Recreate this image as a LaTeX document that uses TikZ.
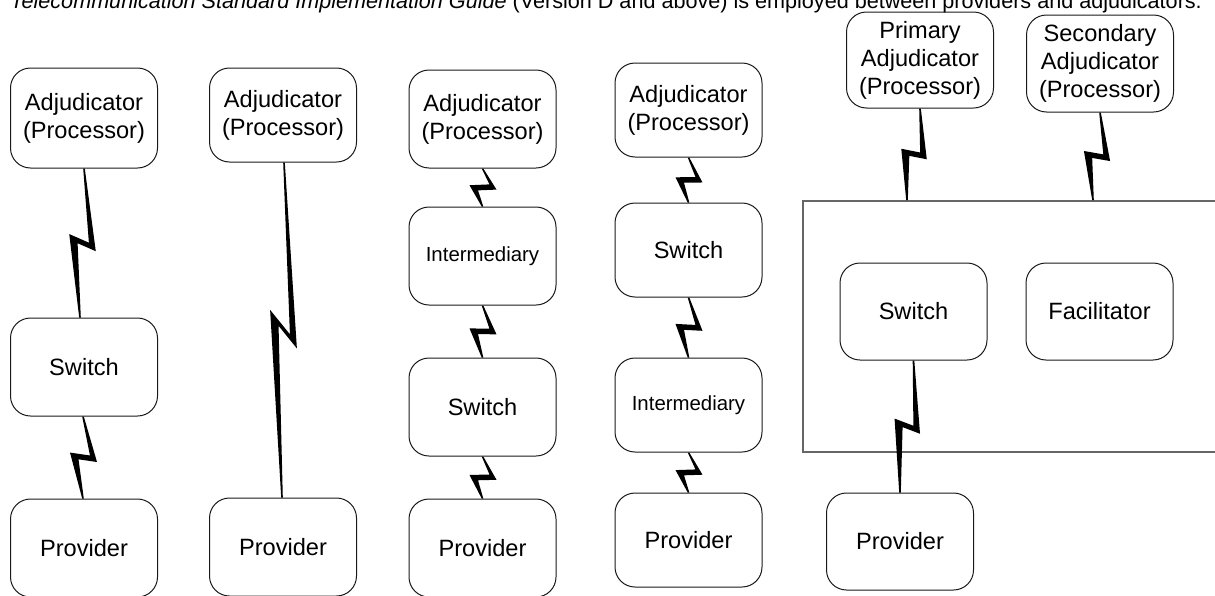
\documentclass[tikz,border=0pt]{standalone}
\usepackage{fontspec}
\setmainfont{Liberation Sans}
\usetikzlibrary{calc}

\newcommand{\linkbolt}[2]{%
  \path (#1) coordinate (bA);
  \path (#2) coordinate (bB);
  \path ($(bA)!0.44!(bB)$) ++(-13,0) coordinate (bL);
  \path ($(bA)!0.555!(bB)$) ++(14,0) coordinate (bR);
  \path ($(bR)+(0,-5.5)$) coordinate (bRu);
  \path ($(bL)+(0,5.5)$) coordinate (bLd);
  \fill ($(bA)+(-0.8,0)$) -- ($(bL)!0.74!(bRu)$) -- (bL) -- ($(bB)+(-0.8,0)$)
    -- ($(bB)+(0.8,0)$) -- ($(bLd)!0.315!(bR)$) -- (bR) -- ($(bA)+(0.8,0)$) -- cycle;
}

\begin{document}
\begin{tikzpicture}[x=0.5pt, y=-0.5pt,
  unit/.style={draw=black!90, line width=0.5pt, rounded corners=10pt,
    minimum width=73.5pt, minimum height=49pt, align=center, inner sep=1pt,
    font=\fontsize{11.8}{14}\selectfont},
  midunit/.style={unit, font=\fontsize{10.2}{12}\selectfont},
  hubbox/.style={draw=black!60, line width=0.75pt, inner sep=0pt, anchor=north west}]
\useasboundingbox (0,0) rectangle (1215,595);
\clip (0,0) rectangle (1215,595);

\node[anchor=base west, inner sep=0pt, font=\fontsize{10.8}{13}\selectfont] (caption) at (10,8.5)
  {\textit{Telecommunication Standard Implementation Guide} (Version D and above) is employed between providers and adjudicators.};

\node[unit, minimum height=50pt] (adjA) at (84,118) {Adjudicator\\(Processor)};
\node[unit] (swA) at (84,367) {Switch};
\node[unit] (provA) at (84,548) {Provider};

\node[unit, minimum height=47pt] (adjB) at (283,115) {Adjudicator\\(Processor)};
\node[unit] (provB) at (283,547) {Provider};

\node[unit] (adjC) at (482.5,119) {Adjudicator\\(Processor)};
\node[midunit] (intC) at (482.5,256) {Intermediary};
\node[unit] (swC) at (482.5,407) {Switch};
\node[unit] (provC) at (482.5,548) {Provider};

\node[unit, minimum height=47pt] (adjD) at (688.5,110) {Adjudicator\\(Processor)};
\node[unit, minimum height=47pt] (swD) at (688.5,250) {Switch};
\node[midunit, minimum height=47pt] (intD) at (688.5,405) {Intermediary};
\node[unit, minimum height=47pt] (provD) at (688.5,540) {Provider};

\node[hubbox, minimum width=209pt, minimum height=125.5pt] (hub) at (802,200) {};
\node[unit, minimum height=48pt] (priE) at (920,60) {Primary\\Adjudicator\\(Processor)};
\node[unit, minimum height=48.5pt] (secE) at (1100,63.5) {Secondary\\Adjudicator\\(Processor)};
\node[unit, minimum height=48.5pt] (swE) at (913.5,311.5) {Switch};
\node[unit, minimum height=48.5pt] (facE) at (1099.5,311.5) {Facilitator};
\node[unit, minimum height=48.5pt] (provE) at (900,541.5) {Provider};

\linkbolt{adjA.south}{$(swA.north)+(-4,0)$}
\linkbolt{$(swA.south)+(-1,0)$}{$(provA.north)+(-1,0)$}
\linkbolt{$(adjB.south)+(1,0)$}{$(provB.north)+(-1,0)$}
\linkbolt{adjC.south}{intC.north}
\linkbolt{intC.south}{swC.north}
\linkbolt{swC.south}{provC.north}
\linkbolt{adjD.south}{swD.north}
\linkbolt{swD.south}{intD.north}
\linkbolt{intD.south}{provD.north}
\linkbolt{priE.south}{$(hub.north west)+(105,0)$}
\linkbolt{secE.south}{$(hub.north west)+(291,0)$}
\linkbolt{swE.south}{provE.north}
\end{tikzpicture}
\end{document}
